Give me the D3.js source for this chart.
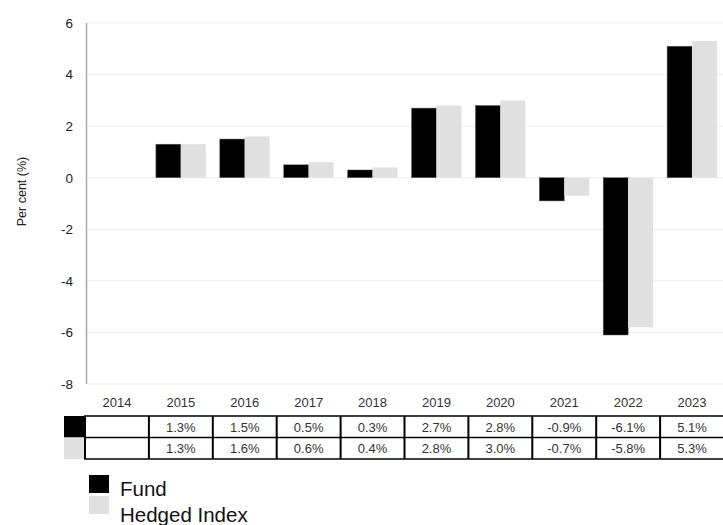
<!DOCTYPE html>
<html>
<head>
<meta charset="utf-8">
<script src="https://cdn.jsdelivr.net/npm/d3@7"></script>
<style>
  html, body { margin: 0; padding: 0; background: #fff; }
  svg { display: block; font-family: "Liberation Sans", Arial, Helvetica, sans-serif; }
</style>
</head>
<body>
<svg id="chart" width="723" height="525"></svg>
<script>
const years = ["2014","2015","2016","2017","2018","2019","2020","2021","2022","2023"];
const fundValues = [null, 1.3, 1.5, 0.5, 0.3, 2.7, 2.8, -0.9, -6.1, 5.1];
const indexValues = [null, 1.3, 1.6, 0.6, 0.4, 2.8, 3.0, -0.7, -5.8, 5.3];
const seriesNames = ["Fund", "Hedged Index"];
const seriesColors = ["#000000", "#e0e0e0"];
const yTicks = [6, 4, 2, 0, -2, -4, -6, -8];
const yLabel = "Per cent (%)";

const series = [fundValues, indexValues];
const svg = d3.select("#chart");

const x = d3.scaleBand().domain(years).range([85, 724]).paddingInner(0).paddingOuter(0);
const x1 = d3.scaleBand().domain(seriesNames).range([7, x.bandwidth() - 7]).padding(0);
const y = d3.scaleLinear().domain([-8, 6]).range([384, 23]);

// gridlines
svg.append("g").selectAll("line").data(yTicks).join("line")
  .attr("x1", 87).attr("x2", 723)
  .attr("y1", d => y(d)).attr("y2", d => y(d))
  .attr("stroke", "#efefef").attr("stroke-width", 1.2);

// y axis
const yAxis = d3.axisLeft(y).tickValues(yTicks).tickSize(0).tickPadding(0).tickFormat(d => String(d));
const yg = svg.append("g").attr("transform", "translate(73,0)").call(yAxis);
yg.select(".domain").remove();
yg.selectAll("text").attr("font-size", 13.5).attr("fill", "#222")
  .attr("font-family", "'Liberation Sans', Arial, sans-serif");
svg.append("line").attr("x1", 86.5).attr("x2", 86.5).attr("y1", y(6)).attr("y2", y(-8))
  .attr("stroke", "#aaaaaa").attr("stroke-width", 1.5);

// y label
svg.append("text")
  .attr("transform", `translate(26,${(y(6) + y(-8)) / 2 - 12}) rotate(-90)`)
  .attr("text-anchor", "middle")
  .attr("font-size", 12.5).attr("fill", "#222")
  .text(yLabel);

// bars
series.forEach((vals, si) => {
  svg.append("g").selectAll("rect")
    .data(years.map((yr, i) => ({ yr, v: vals[i] })).filter(d => d.v !== null))
    .join("rect")
    .attr("x", d => x(d.yr) + x1(seriesNames[si]))
    .attr("width", x1.bandwidth())
    .attr("y", d => y(Math.max(0, d.v)))
    .attr("height", d => Math.abs(y(d.v) - y(0)))
    .attr("fill", seriesColors[si])
    .attr("stroke", si === 0 ? "#666" : "none")
    .attr("stroke-width", 0.5);
});

// x axis labels (year header row)
const xAxis = d3.axisBottom(x).tickSize(0).tickPadding(0);
const xg = svg.append("g").attr("transform", "translate(0,398)").call(xAxis);
xg.select(".domain").remove();
xg.selectAll("text").attr("font-size", 13).attr("fill", "#333")
  .attr("font-family", "'Liberation Sans', Arial, sans-serif");

// data table
const rowTop = [416, 437.5];
const rowH = 21.5;
const tbl = svg.append("g");
series.forEach((vals, si) => {
  tbl.append("rect").attr("x", 64).attr("y", rowTop[si]).attr("width", 21).attr("height", rowH)
    .attr("fill", seriesColors[si]);
  tbl.append("g").selectAll("text")
    .data(years.map((yr, i) => ({ yr, v: vals[i] })).filter(d => d.v !== null))
    .join("text")
    .attr("x", d => x(d.yr) + x.bandwidth() / 2)
    .attr("y", rowTop[si] + rowH / 2 + 5)
    .attr("text-anchor", "middle")
    .attr("font-size", 13).attr("fill", "#333")
    .text(d => d.v.toFixed(1) + "%");
});
// horizontal lines
[416, 437.5, 459].forEach(yy => {
  tbl.append("line").attr("x1", 84).attr("x2", 723).attr("y1", yy).attr("y2", yy)
    .attr("stroke", "#000").attr("stroke-width", 1.3);
});
// vertical lines
tbl.append("g").selectAll("line").data(years).join("line")
  .attr("x1", d => x(d)).attr("x2", d => x(d))
  .attr("y1", 416).attr("y2", 459)
  .attr("stroke", "#000").attr("stroke-width", 2);

// legend
const lg = svg.append("g");
seriesNames.forEach((name, i) => {
  lg.append("rect").attr("x", 89).attr("y", 475 + i * 21).attr("width", 20).attr("height", 18)
    .attr("fill", seriesColors[i]);
  lg.append("text").attr("x", 120).attr("y", 496 + i * 26)
    .attr("font-size", 20.5).attr("fill", "#111").text(name);
});
</script>
</body>
</html>
